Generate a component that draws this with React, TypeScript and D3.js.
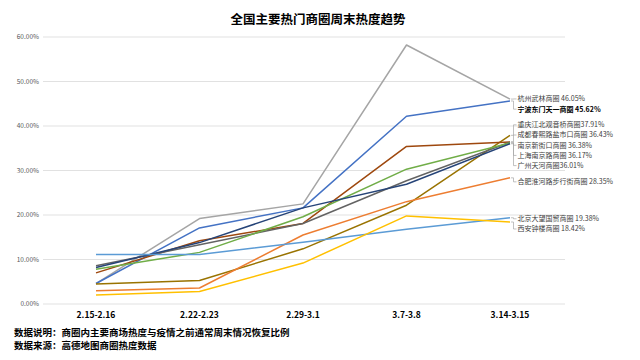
import React from "react";
import * as d3 from "d3";

const categories = ["2.15-2.16", "2.22-2.23", "2.29-3.1", "3.7-3.8", "3.14-3.15"];

const seriesNames = [
  "杭州武林商圈",
  "宁波东门天一商圈",
  "重庆江北观音桥商圈",
  "成都春熙路盐市口商圈",
  "南京新街口商圈",
  "上海南京路商圈",
  "广州天河商圈",
  "合肥淮河路步行街商圈",
  "北京大望国贸商圈",
  "西安钟楼商圈",
];

const hangzhou = [4.6, 19.2, 22.5, 58.2, 46.05];
const ningbo = [4.6, 17.1, 21.6, 42.2, 45.62];
const chongqing = [4.5, 5.3, 12.4, 22.2, 37.91];
const chengdu = [7.0, 14.2, 18.1, 35.4, 36.43];
const nanjing = [8.6, 13.3, 18.1, 27.7, 36.38];
const shanghai = [7.8, 11.6, 19.6, 30.3, 36.17];
const guangzhou = [8.2, 13.8, 21.6, 26.9, 36.01];
const hefei = [3.0, 3.6, 15.5, 23.0, 28.35];
const beijing = [11.1, 11.1, 13.9, 16.8, 19.38];
const xian = [2.0, 2.8, 9.2, 19.8, 18.42];

const seriesValues = [hangzhou, ningbo, chongqing, chengdu, nanjing, shanghai, guangzhou, hefei, beijing, xian];
const seriesColors = ["#A5A5A5", "#4472C4", "#997300", "#9E480E", "#636363", "#70AD47", "#264478", "#ED7D31", "#5B9BD5", "#FFC000"];
const labelSeparator = [" ", " ", "", " ", " ", " ", "", " ", " ", " "];
const highlighted = [false, true, false, false, false, false, false, false, false, false];

const yTicks = [0, 10, 20, 30, 40, 50, 60];

const title = "全国主要热门商圈周末热度趋势";
const notes = ["数据说明：商圈内主要商场热度与疫情之前通常周末情况恢复比例", "数据来源：高德地图商圈热度数据"];

const FONT = "'Noto Sans CJK SC', 'Noto Sans', sans-serif";

function layoutLabels(natural: number[], spacing: number, bias: number): number[] {
  const order = natural.map((v, i) => i).sort((a, b) => natural[a] - natural[b]);
  type G = { idx: number[]; top: number };
  let groups: G[] = order.map((i) => ({ idx: [i], top: natural[i] }));
  let changed = true;
  while (changed) {
    changed = false;
    const out: G[] = [];
    for (const g of groups) {
      const prev = out[out.length - 1];
      if (prev && prev.top + prev.idx.length * spacing > g.top) {
        const idx = prev.idx.concat(g.idx);
        const mean = d3.mean(idx, (i) => natural[i]) as number;
        out[out.length - 1] = { idx, top: mean - ((idx.length - 1) * spacing) / 2 };
        changed = true;
      } else out.push({ ...g });
    }
    groups = out;
  }
  const res = new Array(natural.length).fill(0);
  groups.forEach((g) => g.idx.forEach((i, k) => (res[i] = g.top + k * spacing + bias)));
  return res;
}

export default function App() {
  const W = 640, H = 360;
  const gridLeft = 43, gridRight = 565;
  const x = d3.scalePoint<string>().domain(categories).range([96, 510]);
  const y = d3.scaleLinear().domain([0, 60]).range([304, 37]);
  const line = d3
    .line<number>()
    .x((d, i) => x(categories[i]) as number)
    .y((d) => y(d));
  const lastX = x(categories[categories.length - 1]) as number;
  const naturalY = seriesValues.map((s) => y(s[s.length - 1]));
  const labelY = layoutLabels(naturalY, 10.2, 4);
  const leaderX = 513.5;
  const fmt = d3.format(".2f");

  return (
    <svg width={W} height={H} style={{ position: "absolute", left: 0, top: 0, background: "#fff" }} fontFamily={FONT}>
      <text x={318} y={24} textAnchor="middle" fontSize={12.5} fontWeight="bold" fill="#000">
        {title}
      </text>
      {yTicks.map((t) => (
        <g key={t}>
          <line x1={gridLeft} x2={gridRight} y1={y(t)} y2={y(t)} stroke="#d9d9d9" strokeWidth={0.8} />
          <text x={39} y={y(t)} dy="0.35em" textAnchor="end" fontSize={6.5} fill="#595959">
            {fmt(t) + "%"}
          </text>
        </g>
      ))}
      {categories.map((c) => (
        <text key={c} x={x(c)} y={318} textAnchor="middle" fontSize={8.5} fontWeight="bold" fill="#000">
          {c}
        </text>
      ))}
      {seriesValues.map((s, i) => (
        <path key={seriesNames[i]} d={line(s) as string} fill="none" stroke={seriesColors[i]} strokeWidth={1.5} strokeLinejoin="round" />
      ))}
      {seriesValues.map((s, i) => (
        <g key={"lab" + i}>
          <path
            d={`M${lastX + 1},${naturalY[i]}L${leaderX},${naturalY[i]}L${leaderX},${labelY[i]}L${leaderX + 3},${labelY[i]}`}
            fill="none"
            stroke="#a6a6a6"
            strokeWidth={0.7}
          />
          <text
            x={leaderX + 4}
            y={labelY[i]}
            dy="0.35em"
            fontSize={7}
            fontWeight={highlighted[i] ? "bold" : "normal"}
            fill={highlighted[i] ? "#000" : "#404040"}
          >
            {seriesNames[i] + labelSeparator[i] + fmt(s[s.length - 1]) + "%"}
          </text>
        </g>
      ))}
      {notes.map((n, i) => (
        <text key={n} x={14} y={335.5 + i * 13} fontSize={9.5} fontWeight="bold" fill="#000">
          {n}
        </text>
      ))}
    </svg>
  );
}
